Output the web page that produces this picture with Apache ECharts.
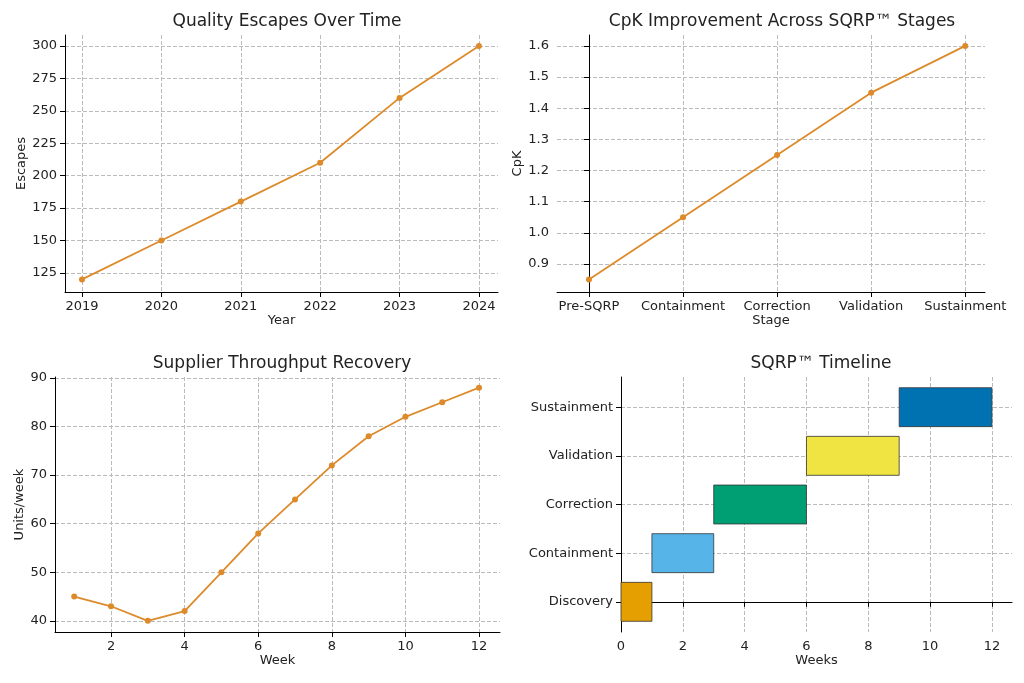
<!DOCTYPE html><html><head><meta charset="utf-8"><script src="https://cdn.jsdelivr.net/npm/echarts@6/dist/echarts.min.js"></script>
<style>html,body{margin:0;padding:0;background:#fff}#c{width:1024px;height:683px}</style></head><body><div id="c"></div><script>
const years=[2019,2020,2021,2022,2023,2024];
const escapes=[120,150,180,210,260,300];
const escTicks=[125,150,175,200,225,250,275,300];
const stages=['Pre-SQRP','Containment','Correction','Validation','Sustainment'];
const cpk=[0.85,1.05,1.25,1.45,1.6];
const cpkTicks=[0.9,1.0,1.1,1.2,1.3,1.4,1.5,1.6];
const weeks=[1,2,3,4,5,6,7,8,9,10,11,12];
const units=[45,43,40,42,50,58,65,72,78,82,85,88];
const unitTicks=[40,50,60,70,80,90];
const weekTicks=[2,4,6,8,10,12];
const phases=['Discovery','Containment','Correction','Validation','Sustainment'];
const phaseStart=[0,1,3,6,9];
const phaseDur=[1,2,3,3,3];
const ganttTicks=[0,2,4,6,8,10,12];
const phaseColors=['#E69F00','#56B4E9','#009E73','#F0E442','#0072B2'];
const orange='#DD8A2A';
const F='DejaVu Sans';
const txt={color:'#222',fontFamily:F,fontSize:13};
const split={show:true,lineStyle:{type:'dashed',color:'#bbb'}};
const axLine={show:true,lineStyle:{color:'#000'}};
function ax(gi,min,max,ticks,name,gap,fmt){return {type:'value',gridIndex:gi,min,max,name,nameLocation:'middle',nameGap:gap,nameTextStyle:txt,
 axisLine:axLine,axisTick:{show:true,customValues:ticks,lineStyle:{color:'#000'}},splitLine:split,
 axisLabel:{...txt,customValues:ticks,formatter:fmt||(v=>String(v))}};}
const tStyle={fontFamily:F,fontSize:17,fontWeight:'normal',color:'#222'};
const chart=echarts.init(document.getElementById('c'));
chart.setOption({
 animation:false,
 title:[
  {text:'Quality Escapes Over Time',left:282,top:8,textAlign:'center',textStyle:tStyle},
  {text:'CpK Improvement Across SQRP™ Stages',left:777,top:8,textAlign:'center',textStyle:tStyle},
  {text:'Supplier Throughput Recovery',left:277,top:350,textAlign:'center',textStyle:tStyle},
  {text:'SQRP™ Timeline',left:816,top:350,textAlign:'center',textStyle:tStyle}],
 grid:[
  {left:65,right:526,top:35,bottom:391},
  {left:557,right:39,top:35,bottom:391},
  {left:55,right:524,top:377,bottom:51},
  {left:621,right:12,top:377,bottom:51}],
 xAxis:[
  ax(0,2018.786,2024.24,years,'Year',22),
  ax(1,-0.34,4.21,[0,1,2,3,4],'Stage',22,v=>stages[Math.round(v)]),
  ax(2,0.478,12.57,weekTicks,'Week',22),
  ax(3,0,12.65,ganttTicks,'Weeks',22)],
 yAxis:[
  ax(0,110.3,308.5,escTicks,'Escapes',36),
  ax(1,0.81,1.635,cpkTicks,'CpK',26,v=>v.toFixed(1)),
  ax(2,37.7,90.2,unitTicks,'Units/week',26),
  ax(3,-0.62,4.62,[0,1,2,3,4],'',0,v=>phases[Math.round(v)])],
 series:[
  {type:'line',xAxisIndex:0,yAxisIndex:0,data:years.map((y,i)=>[y,escapes[i]]),color:orange,symbol:'circle',symbolSize:6,lineStyle:{width:1.8}},
  {type:'line',xAxisIndex:1,yAxisIndex:1,data:cpk.map((v,i)=>[i,v]),color:orange,symbol:'circle',symbolSize:6,lineStyle:{width:1.8}},
  {type:'line',xAxisIndex:2,yAxisIndex:2,data:weeks.map((w,i)=>[w,units[i]]),color:orange,symbol:'circle',symbolSize:6,lineStyle:{width:1.8}},
  {type:'custom',xAxisIndex:3,yAxisIndex:3,data:phases.map((p,i)=>[phaseStart[i],phaseStart[i]+phaseDur[i],i]),
   encode:{x:[0,1],y:2},
   renderItem:(params,api)=>{const a=api.coord([api.value(0),api.value(2)]),b=api.coord([api.value(1),api.value(2)]);const h=api.size([0,0.8])[1];
    return {type:'rect',shape:{x:a[0],y:a[1]-h/2,width:b[0]-a[0],height:h},style:{fill:phaseColors[params.dataIndex],stroke:'#333',lineWidth:0.8}};}}]
});
</script></body></html>
